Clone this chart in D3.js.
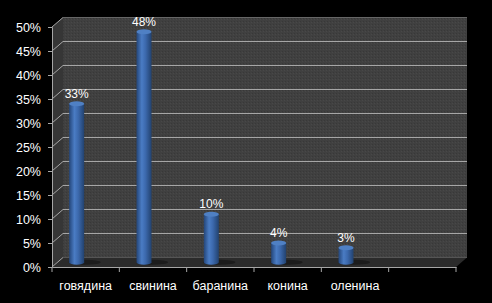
<!DOCTYPE html>
<html>
<head>
<meta charset="utf-8">
<script src="https://cdn.jsdelivr.net/npm/d3@7"></script>
<style>
  body { margin: 0; background: #000; }
  svg { display: block; }
  text { font-family: "Liberation Sans", "DejaVu Sans", sans-serif; }
</style>
</head>
<body>
<svg id="chart" width="492" height="303"></svg>
<script>
// data
const categories = ["говядина", "свинина", "баранина", "конина", "оленина", ""];
const values = [33, 48, 10, 4, 3, null];
const yTicks = [0, 5, 10, 15, 20, 25, 30, 35, 40, 45, 50];

const svg = d3.select("#chart");
svg.append("rect").attr("width", 492).attr("height", 303).attr("fill", "#000");

// 3d depth offset of the back wall
const DX = 11, DY = -9.5;

const x = d3.scaleBand().domain(categories).range([52, 456]);
const y = d3.scaleLinear().domain([0, 50]).range([267, 27]);

const defs = svg.append("defs");
// slight dotted texture for walls
const pat = defs.append("pattern").attr("id", "tex").attr("width", 3).attr("height", 3)
  .attr("patternUnits", "userSpaceOnUse");
pat.append("rect").attr("width", 3).attr("height", 3).attr("fill", "#404040");
pat.append("rect").attr("width", 1).attr("height", 1).attr("fill", "#383838");
pat.append("rect").attr("x", 2).attr("y", 1).attr("width", 1).attr("height", 1).attr("fill", "#484848");

const barGrad = defs.append("linearGradient").attr("id", "bar");
barGrad.append("stop").attr("offset", "0%").attr("stop-color", "#24467a");
barGrad.append("stop").attr("offset", "35%").attr("stop-color", "#4a7cc4");
barGrad.append("stop").attr("offset", "60%").attr("stop-color", "#3c69ad");
barGrad.append("stop").attr("offset", "100%").attr("stop-color", "#22426f");

const x0 = x.range()[0], x1 = x.range()[1];

// back wall
svg.append("rect")
  .attr("x", x0 + DX).attr("y", y(50) + DY)
  .attr("width", x1 - x0).attr("height", y(0) - y(50))
  .attr("fill", "url(#tex)");

// left side wall
svg.append("path")
  .attr("d", `M${x0},${y(0)} L${x0},${y(50)} L${x0 + DX},${y(50) + DY} L${x0 + DX},${y(0) + DY} Z`)
  .attr("fill", "#363636");

// floor
svg.append("path")
  .attr("d", `M${x0},${y(0)} L${x0 + DX},${y(0) + DY} L${x1 + DX},${y(0) + DY} L${x1},${y(0)} Z`)
  .attr("fill", "#2b2b2b");

// gridlines on back wall and side wall
const grid = svg.append("g");
yTicks.filter(t => t > 0).forEach(t => {
  grid.append("line")
    .attr("x1", x0 + DX).attr("x2", x1 + DX)
    .attr("y1", y(t) + DY).attr("y2", y(t) + DY)
    .attr("stroke", t === 50 ? "#666" : "#a6a6a6").attr("stroke-width", 1);
});
yTicks.forEach(t => {
  grid.append("line")
    .attr("x1", x0).attr("x2", x0 + DX)
    .attr("y1", y(t)).attr("y2", y(t) + DY)
    .attr("stroke", "#a6a6a6").attr("stroke-width", 1);
});
grid.append("line")
  .attr("x1", x0 + DX).attr("x2", x1 + DX)
  .attr("y1", y(0) + DY).attr("y2", y(0) + DY)
  .attr("stroke", "#555");

// bars as cylinders
const BW = 15, EH = 2.5, SHIFT = -9;
const bars = svg.append("g").selectAll("g")
  .data(categories.map((c, i) => ({ cat: c, v: values[i] })).filter(d => d.v != null))
  .enter().append("g");

const cx = d => x(d.cat) + x.bandwidth() / 2 + SHIFT;
const barBase = y(0) + DY / 2;
const barTop = d => y(d.v) + DY / 2;

// shadow on floor
bars.append("ellipse")
  .attr("cx", d => cx(d) + 8).attr("cy", barBase)
  .attr("rx", 16).attr("ry", 2.5)
  .attr("fill", "#1c1c1c");

bars.append("path")
  .attr("d", d => {
    const l = cx(d) - BW / 2, r = cx(d) + BW / 2;
    return `M${l},${barTop(d)} L${l},${barBase} A${BW / 2},${EH} 0 0 0 ${r},${barBase} L${r},${barTop(d)} Z`;
  })
  .attr("fill", "url(#bar)");

bars.append("ellipse")
  .attr("cx", cx).attr("cy", barTop)
  .attr("rx", BW / 2).attr("ry", EH)
  .attr("fill", "#4f80c4");

// value labels
bars.append("text")
  .attr("x", cx).attr("y", d => barTop(d) - 6)
  .attr("text-anchor", "middle")
  .attr("fill", "#fff").attr("font-size", 12)
  .text(d => d.v + "%");

// y axis
const yAxis = svg.append("g")
  .attr("transform", `translate(${x0},0)`)
  .call(d3.axisLeft(y).tickValues(yTicks).tickSize(4).tickFormat(d => d + "%"));
yAxis.select(".domain").attr("stroke", "#a6a6a6");
yAxis.selectAll(".tick line").attr("stroke", "#a6a6a6");
yAxis.selectAll(".tick text").attr("fill", "#fff").attr("font-size", 12.5)
  .attr("font-family", "Liberation Sans, DejaVu Sans, sans-serif").attr("x", -11);

// x axis
const xAxis = svg.append("g")
  .attr("transform", `translate(0,${y(0)})`)
  .call(d3.axisBottom(x).tickSize(0).tickSizeOuter(0));
xAxis.select(".domain").attr("stroke", "#a6a6a6");
xAxis.selectAll(".tick text").attr("fill", "#fff").attr("font-size", 12.5)
  .attr("font-family", "Liberation Sans, DejaVu Sans, sans-serif").attr("dy", 0).attr("y", 23);
// tick marks on the category boundaries
xAxis.selectAll("line.bound")
  .data(categories.map(c => x(c)).concat([x1]))
  .enter().append("line").attr("class", "bound")
  .attr("x1", d => d).attr("x2", d => d)
  .attr("y1", 0).attr("y2", 5)
  .attr("stroke", "#a6a6a6");
</script>
</body>
</html>
